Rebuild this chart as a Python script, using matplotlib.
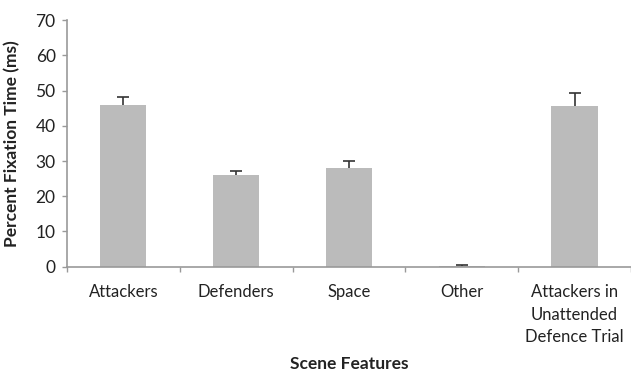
import matplotlib.pyplot as plt
import numpy as np

# Percent fixation time per scene feature, with upper error bars
features = ['Attackers', 'Defenders', 'Space', 'Other',
            'Attackers in\nUnattended\nDefence Trial']
fixation = [46.0, 26.0, 28.0, 0.3, 45.7]
err_upper = [2.2, 1.2, 1.9, 0.2, 3.6]

plt.rcParams['font.family'] = ['Lato', 'DejaVu Sans']

fig = plt.figure(figsize=(6.31, 3.73), dpi=100)
ax = fig.add_axes([0.106, 0.285, 0.894, 0.661])

x = np.arange(len(features))
ax.bar(x, fixation, width=0.41, color='#bbbbbb', zorder=2)
_, caps, _ = ax.errorbar(x, fixation, yerr=[np.zeros(len(x)), err_upper],
                         fmt='none', ecolor='#333333', elinewidth=1.2,
                         capsize=4, capthick=1.2, zorder=3)
caps[0].set_visible(False)  # only the upper cap is drawn

ax.set_xlim(-0.5, len(features) - 0.5)
ax.set_ylim(0, 70)
ax.set_yticks(np.arange(0, 71, 10))

ax.set_xticks(x)
ax.set_xticklabels(features, fontsize=12, linespacing=1.5, color='#222222')
ax.set_xticks(np.arange(-0.5, len(features), 1.0), minor=True)
ax.tick_params(axis='x', which='major', length=0, pad=12.5)
ax.tick_params(axis='x', which='minor', length=3.6, color='#999999', width=1)
ax.tick_params(axis='y', length=3.6, color='#999999', width=1, labelsize=12.5,
               labelcolor='#222222', pad=4.5)

for side in ['top', 'right']:
    ax.spines[side].set_visible(False)
for side in ['left', 'bottom']:
    ax.spines[side].set_color('#999999')
    ax.spines[side].set_linewidth(1.2)

ax.set_ylabel('Percent Fixation Time (ms)', fontsize=12.5, fontweight='bold',
              color='#222222')
ax.yaxis.set_label_coords(-0.082, 0.5)
ax.set_xlabel('Scene Features', fontsize=12.5, fontweight='bold', color='#222222')
ax.xaxis.set_label_coords(0.5, -0.362)

fig.savefig('out.png', dpi=100)
